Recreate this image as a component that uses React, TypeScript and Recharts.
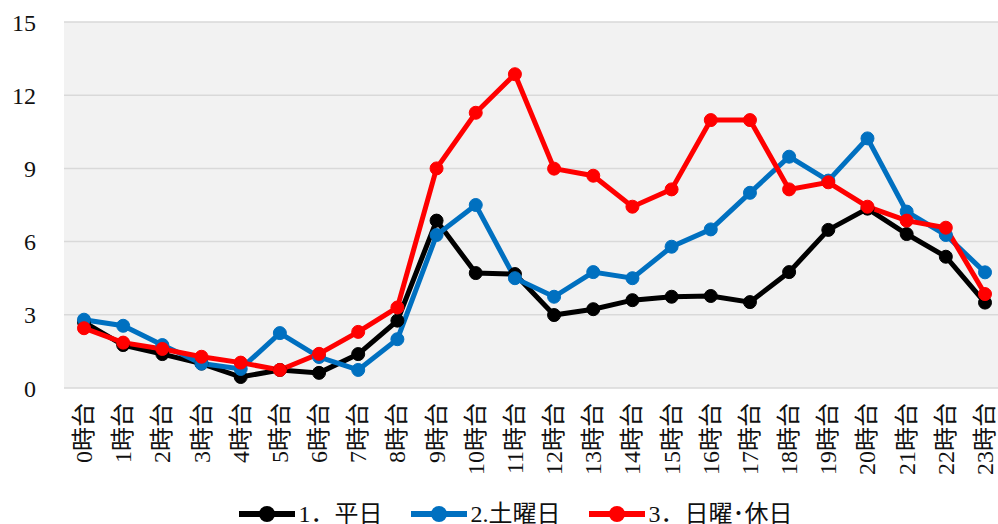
import React from "react";
import { LineChart, Line, XAxis, YAxis, CartesianGrid, Legend } from "recharts";

const categories = ["0時台","1時台","2時台","3時台","4時台","5時台","6時台","7時台","8時台","9時台","10時台","11時台","12時台","13時台","14時台","15時台","16時台","17時台","18時台","19時台","20時台","21時台","22時台","23時台"];
const weekday = [2.7,1.76,1.39,1.0,0.45,0.74,0.62,1.39,2.76,6.86,4.71,4.67,2.99,3.23,3.6,3.74,3.77,3.52,4.75,6.48,7.35,6.31,5.38,3.5];
const saturday = [2.8,2.55,1.76,1.0,0.78,2.25,1.27,0.74,2.0,6.27,7.5,4.5,3.74,4.75,4.5,5.79,6.5,8.0,9.48,8.5,10.23,7.23,6.27,4.74];
const holiday = [2.45,1.86,1.6,1.28,1.04,0.74,1.4,2.3,3.3,9.0,11.28,12.86,8.99,8.7,7.43,8.14,10.98,10.98,8.14,8.43,7.43,6.86,6.57,3.85];
const yTicks = [0, 3, 6, 9, 12, 15];
const seriesNames = ["1．平日", "2.土曜日", "3．日曜･休日"];
const seriesColors = ["#000000", "#0070c0", "#ff0000"];

const data = categories.map((c, i) => ({
  name: c,
  s0: weekday[i],
  s1: saturday[i],
  s2: holiday[i],
}));

const FONT = "'Liberation Serif', 'Noto Sans CJK JP', serif";

const XTick = (props: any) => {
  const { x, y, payload } = props;
  const ty = y + 15;
  return (
    <text
      x={x}
      y={ty}
      transform={`rotate(-90, ${x}, ${ty})`}
      textAnchor="end"
      dominantBaseline="central"
      fill="#111"
      fontSize={24}
      fontFamily={FONT}
    >
      {payload.value}
    </text>
  );
};

const LegendContent = () => (
  <div
    style={{
      height: 30,
      display: "flex",
      alignItems: "center",
      justifyContent: "center",
      paddingTop: 10,
      paddingLeft: 26,
      boxSizing: "border-box",
      fontFamily: FONT,
      fontSize: 24,
      color: "#111",
    }}
  >
    {seriesNames.map((n, i) => (
      <div key={n} style={{ display: "flex", alignItems: "center", marginLeft: i === 0 ? 0 : 28 }}>
        <svg width={56} height={18} style={{ display: "block" }}>
          <line x1={0} y1={9} x2={56} y2={9} stroke={seriesColors[i]} strokeWidth={6} />
          <circle cx={28} cy={9} r={8} fill={seriesColors[i]} />
        </svg>
        <span style={{ marginLeft: 4, whiteSpace: "nowrap", lineHeight: "20px" }}>{n}</span>
      </div>
    ))}
  </div>
);

export default function App() {
  return (
    <div style={{ position: "absolute", left: 0, top: 0, width: 998, height: 524, overflow: "hidden", background: "#fff" }}>
      <LineChart width={1005} height={524} data={data} margin={{ top: 22, right: 0, bottom: 0, left: 0 }}>
        <CartesianGrid vertical={false} fill="#f2f2f2" stroke="#d9d9d9" strokeWidth={1.5} />
        <XAxis
          dataKey="name"
          interval={0}
          axisLine={false}
          tickLine={false}
          tickSize={0}
          tickMargin={0}
          height={106}
          padding={{ left: 20, right: 20 }}
          tick={<XTick />}
        />
        <YAxis
          domain={[0, 15]}
          ticks={yTicks}
          width={64}
          axisLine={false}
          tickLine={false}
          tickSize={0}
          tickMargin={28}
          tick={{ fill: "#111", fontSize: 24, fontFamily: FONT }}
        />
        <Legend verticalAlign="bottom" height={30} content={<LegendContent />} wrapperStyle={{ left: 0, width: 1005 }} />
        {["s0", "s1", "s2"].map((k, i) => (
          <Line
            key={k}
            dataKey={k}
            name={seriesNames[i]}
            stroke={seriesColors[i]}
            strokeWidth={5}
            dot={{ r: 6.5, fill: seriesColors[i], stroke: seriesColors[i], strokeWidth: 1 }}
            activeDot={false}
            isAnimationActive={false}
          />
        ))}
      </LineChart>
    </div>
  );
}
